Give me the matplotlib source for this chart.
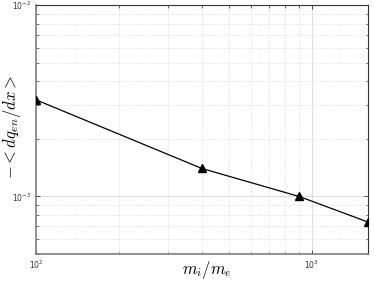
import matplotlib
matplotlib.use("Agg")
import matplotlib.pyplot as plt
from matplotlib.ticker import LogLocator, NullFormatter

plt.rcParams['mathtext.fontset'] = 'cm'

mass_ratio = [100, 400, 900, 1600]
dq_dx = [3.2e-3, 1.40e-3, 1.0e-3, 7.35e-4]

fig = plt.figure(figsize=(3.74, 2.82), dpi=100)
ax = fig.add_axes([0.096, 0.099, 0.888, 0.883])
ax.plot(mass_ratio, dq_dx, color='black', lw=0.9, marker='^', ms=5.5, zorder=3)
ax.set_xscale('log')
ax.set_yscale('log')
ax.set_xlim(100, 1600)
ax.set_ylim(5e-4, 1e-2)

ax.xaxis.set_minor_locator(LogLocator(base=10, subs=range(2, 10)))
ax.yaxis.set_minor_locator(LogLocator(base=10, subs=range(2, 10)))
ax.xaxis.set_minor_formatter(NullFormatter())
ax.yaxis.set_minor_formatter(NullFormatter())

ax.grid(True, which='major', color='#d9d9d9', lw=0.6, ls='-')
ax.grid(True, which='minor', color='#cccccc', lw=0.5, ls=':')
ax.set_axisbelow(True)

ax.tick_params(which='both', direction='in', top=True, right=True, labelsize=5.5,
               labelcolor='#333333', color='#333333')
ax.tick_params(which='major', length=3, width=0.6)
ax.tick_params(which='minor', length=1.8, width=0.5)

for side in ['left', 'bottom']:
    ax.spines[side].set_color('#808080')
    ax.spines[side].set_linewidth(1.2)
for side in ['top', 'right']:
    ax.spines[side].set_color('#333333')
    ax.spines[side].set_linewidth(0.8)

ax.set_xlabel(r'$m_i/m_e$', fontsize=12)
ax.set_ylabel(r'$-<dq_{en}/dx>$', fontsize=12)
ax.xaxis.set_label_coords(0.515, -0.064)
ax.xaxis.label.set_va('center')
ax.yaxis.set_label_coords(-0.072, 0.51)
ax.yaxis.label.set_va('center')

fig.savefig('out.png', dpi=100)
